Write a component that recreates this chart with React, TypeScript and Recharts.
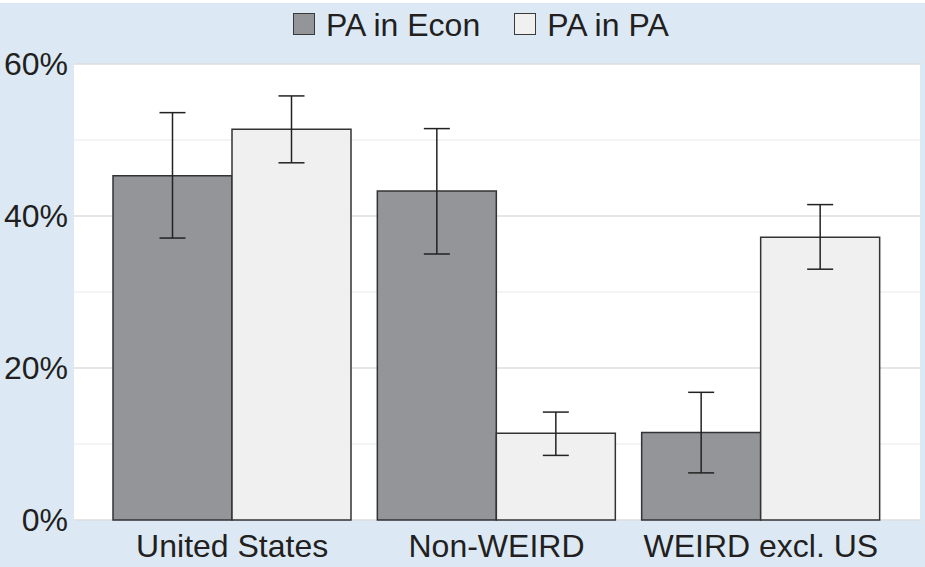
import React from 'react';
import { BarChart, Bar, XAxis, YAxis, CartesianGrid, ErrorBar, Legend } from 'recharts';

const categories = ['United States', 'Non-WEIRD', 'WEIRD excl. US'];
const econValues = [45.3, 43.3, 11.5];
const econLow = [37.1, 35.0, 6.2];
const econHigh = [53.6, 51.5, 16.8];
const paValues = [51.4, 11.4, 37.2];
const paLow = [47.0, 8.5, 33.0];
const paHigh = [55.8, 14.2, 41.5];
const yTicks = [0, 20, 40, 60];
const minorTicks = [10, 30, 50];
const seriesNames = ['PA in Econ', 'PA in PA'];

const data = categories.map((c, i) => ({
  name: c,
  econ: econValues[i],
  econErr: [econValues[i] - econLow[i], econHigh[i] - econValues[i]],
  pa: paValues[i],
  paErr: [paValues[i] - paLow[i], paHigh[i] - paValues[i]],
}));

const FONT = '"Liberation Sans", Arial, Helvetica, sans-serif';
const TEXT = '#231f20';

const LegendContent = (props: any) => {
  const payload = props.payload || [];
  return (
    <div style={{ display: 'flex', alignItems: 'flex-start', fontFamily: FONT, fontSize: 32, lineHeight: '32px', color: TEXT }}>
      {payload.map((p: any, i: number) => (
        <div key={i} style={{ display: 'flex', alignItems: 'flex-start', marginRight: i === 0 ? 34 : 0 }}>
          <div style={{ width: 20, height: 20, marginTop: 4, marginRight: 11, background: p.color, border: '1.5px solid #3a3a3a' }} />
          <span style={{ whiteSpace: 'nowrap' }}>{p.value}</span>
        </div>
      ))}
    </div>
  );
};

export default function App() {
  return (
    <div style={{ position: 'absolute', left: 0, top: 0, width: 925, height: 567, background: '#fff' }}>
      <div style={{ position: 'absolute', left: 0, top: 3, width: 925, height: 564, background: '#dce9f5' }} />
      <div style={{ position: 'absolute', left: 0, top: 0 }}>
        <BarChart
          width={925}
          height={567}
          data={data}
          margin={{ top: 64, right: 5, bottom: 0, left: 0 }}
          barCategoryGap={13}
          barGap={0}
        >
          <CartesianGrid vertical={false} fill="#ffffff" horizontalValues={minorTicks} stroke="#f1f1f1" strokeWidth={1.5} />
          <CartesianGrid vertical={false} horizontalValues={yTicks} stroke="#dedede" strokeWidth={1.5} />
          <XAxis
            dataKey="name"
            axisLine={false}
            tickLine={false}
            tickSize={0}
            tickMargin={14}
            height={47}
            padding={{ left: 26, right: 27 }}
            tick={{ fontSize: 32, fill: TEXT, fontFamily: FONT }}
            interval={0}
          />
          <YAxis
            domain={[0, 60]}
            ticks={yTicks}
            axisLine={false}
            tickLine={false}
            tickSize={0}
            tickMargin={6}
            width={74}
            tickFormatter={(v: number) => `${v}%`}
            tick={{ fontSize: 32, fill: TEXT, fontFamily: FONT }}
          />
          <Legend
            layout="vertical"
            align="center"
            verticalAlign="middle"
            wrapperStyle={{ top: 9, left: 293, width: 500, height: 40 }}
            content={<LegendContent />}
          />
          <Bar dataKey="econ" name={seriesNames[0]} fill="#939598" stroke="#333333" strokeWidth={1.5} isAnimationActive={false}>
            <ErrorBar dataKey="econErr" width={13} stroke="#222222" strokeWidth={1.5} />
          </Bar>
          <Bar dataKey="pa" name={seriesNames[1]} fill="#f0f0f0" stroke="#333333" strokeWidth={1.5} isAnimationActive={false}>
            <ErrorBar dataKey="paErr" width={13} stroke="#222222" strokeWidth={1.5} />
          </Bar>
        </BarChart>
      </div>
    </div>
  );
}
